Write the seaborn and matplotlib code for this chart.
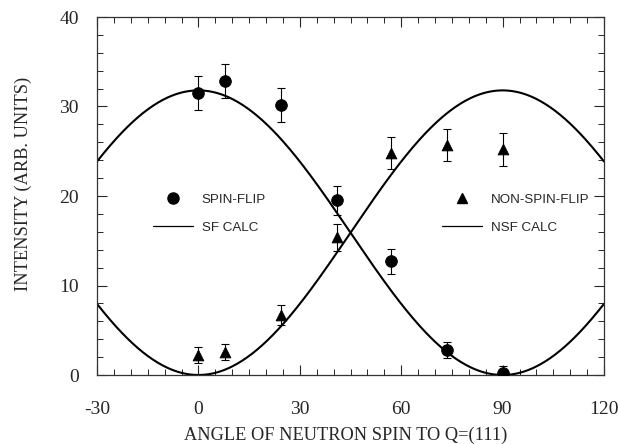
import numpy as np
import pandas as pd
import seaborn as sns
import matplotlib.pyplot as plt
from matplotlib.lines import Line2D
from matplotlib.ticker import MultipleLocator

angles_sf = [0, 8, 24.5, 41, 57, 73.5, 90]
sf_vals = [31.5, 32.8, 30.2, 19.5, 12.7, 2.8, 0.2]
sf_err = [1.9, 1.9, 1.9, 1.6, 1.4, 0.9, 0.8]

angles_nsf = [0, 8, 24.5, 41, 57, 73.5, 90]
nsf_vals = [2.2, 2.6, 6.7, 15.4, 24.8, 25.7, 25.2]
nsf_err = [0.9, 0.9, 1.1, 1.5, 1.8, 1.8, 1.8]

# calculated curves: amplitude * cos^2 / sin^2 of the angle
calc_amp = 31.8
theta = np.linspace(-30, 120, 301)
calc_df = pd.DataFrame({
    'angle': np.concatenate([theta, theta]),
    'intensity': np.concatenate([calc_amp * np.cos(np.radians(theta)) ** 2,
                                 calc_amp * np.sin(np.radians(theta)) ** 2]),
    'curve': ['SF CALC'] * len(theta) + ['NSF CALC'] * len(theta),
})

sns.set_style('ticks')
serif = ['Liberation Serif', 'DejaVu Serif']
sans = ['Liberation Sans', 'DejaVu Sans']
plt.rcParams['font.family'] = serif
plt.rcParams['axes.unicode_minus'] = False

fig = plt.figure(figsize=(6.18, 4.44), dpi=100)
ax = fig.add_axes([97 / 618, 69 / 444, 507 / 618, 358 / 444])

sns.lineplot(data=calc_df, x='angle', y='intensity', units='curve', estimator=None,
             color='black', lw=1.5, ax=ax, legend=False)

ax.errorbar(angles_sf, sf_vals, yerr=sf_err, fmt='none', ecolor='black',
            elinewidth=0.8, capsize=3, capthick=0.8)
ax.errorbar(angles_nsf, nsf_vals, yerr=nsf_err, fmt='none', ecolor='black',
            elinewidth=0.8, capsize=3, capthick=0.8)
sns.scatterplot(x=angles_sf, y=sf_vals, marker='o', s=70, color='black',
                edgecolor='black', ax=ax, zorder=3)
sns.scatterplot(x=angles_nsf, y=nsf_vals, marker='^', s=60, color='black',
                edgecolor='black', ax=ax, zorder=3)

ax.set_xlim(-30, 120)
ax.set_ylim(0, 40)
ax.set_xticks([-30, 0, 30, 60, 90, 120])
ax.set_yticks([0, 10, 20, 30, 40])
ax.xaxis.set_minor_locator(MultipleLocator(5))
ax.yaxis.set_minor_locator(MultipleLocator(2))
ax.tick_params(which='both', direction='in', top=True, right=True, labelsize=14)
ax.tick_params(axis='x', which='both', pad=19)
ax.tick_params(axis='y', which='both', pad=13)
ax.tick_params(which='major', length=7, width=0.8)
ax.tick_params(which='minor', length=4, width=0.7)
for sp in ax.spines.values():
    sp.set_linewidth(0.9)
    sp.set_color('#333333')

ax.set_xlabel('ANGLE OF NEUTRON SPIN TO Q=(111)', fontsize=13.2)
ax.set_ylabel('INTENSITY (ARB. UNITS)', fontsize=13.2)
ax.xaxis.set_label_coords(0.49, -0.145)
ax.yaxis.set_label_coords(-0.128, 0.535)

sf_handles = [Line2D([], [], marker='o', ls='none', color='black', markersize=8),
              Line2D([], [], color='black', lw=0.9)]
nsf_handles = [Line2D([], [], marker='^', ls='none', color='black', markersize=7),
               Line2D([], [], color='black', lw=0.9)]
leg1 = ax.legend(sf_handles, ['SPIN-FLIP', 'SF CALC'], loc='upper left',
                 bbox_to_anchor=(0.087, 0.541), frameon=False, handlelength=3.0,
                 handletextpad=0.65, labelspacing=1.2, prop={'family': sans, 'size': 9.6})
ax.add_artist(leg1)
ax.legend(nsf_handles, ['NON-SPIN-FLIP', 'NSF CALC'], loc='upper left',
          bbox_to_anchor=(0.657, 0.541), frameon=False, handlelength=3.0,
          handletextpad=0.65, labelspacing=1.2, prop={'family': sans, 'size': 9.6})

fig.savefig('out.png', dpi=100)
